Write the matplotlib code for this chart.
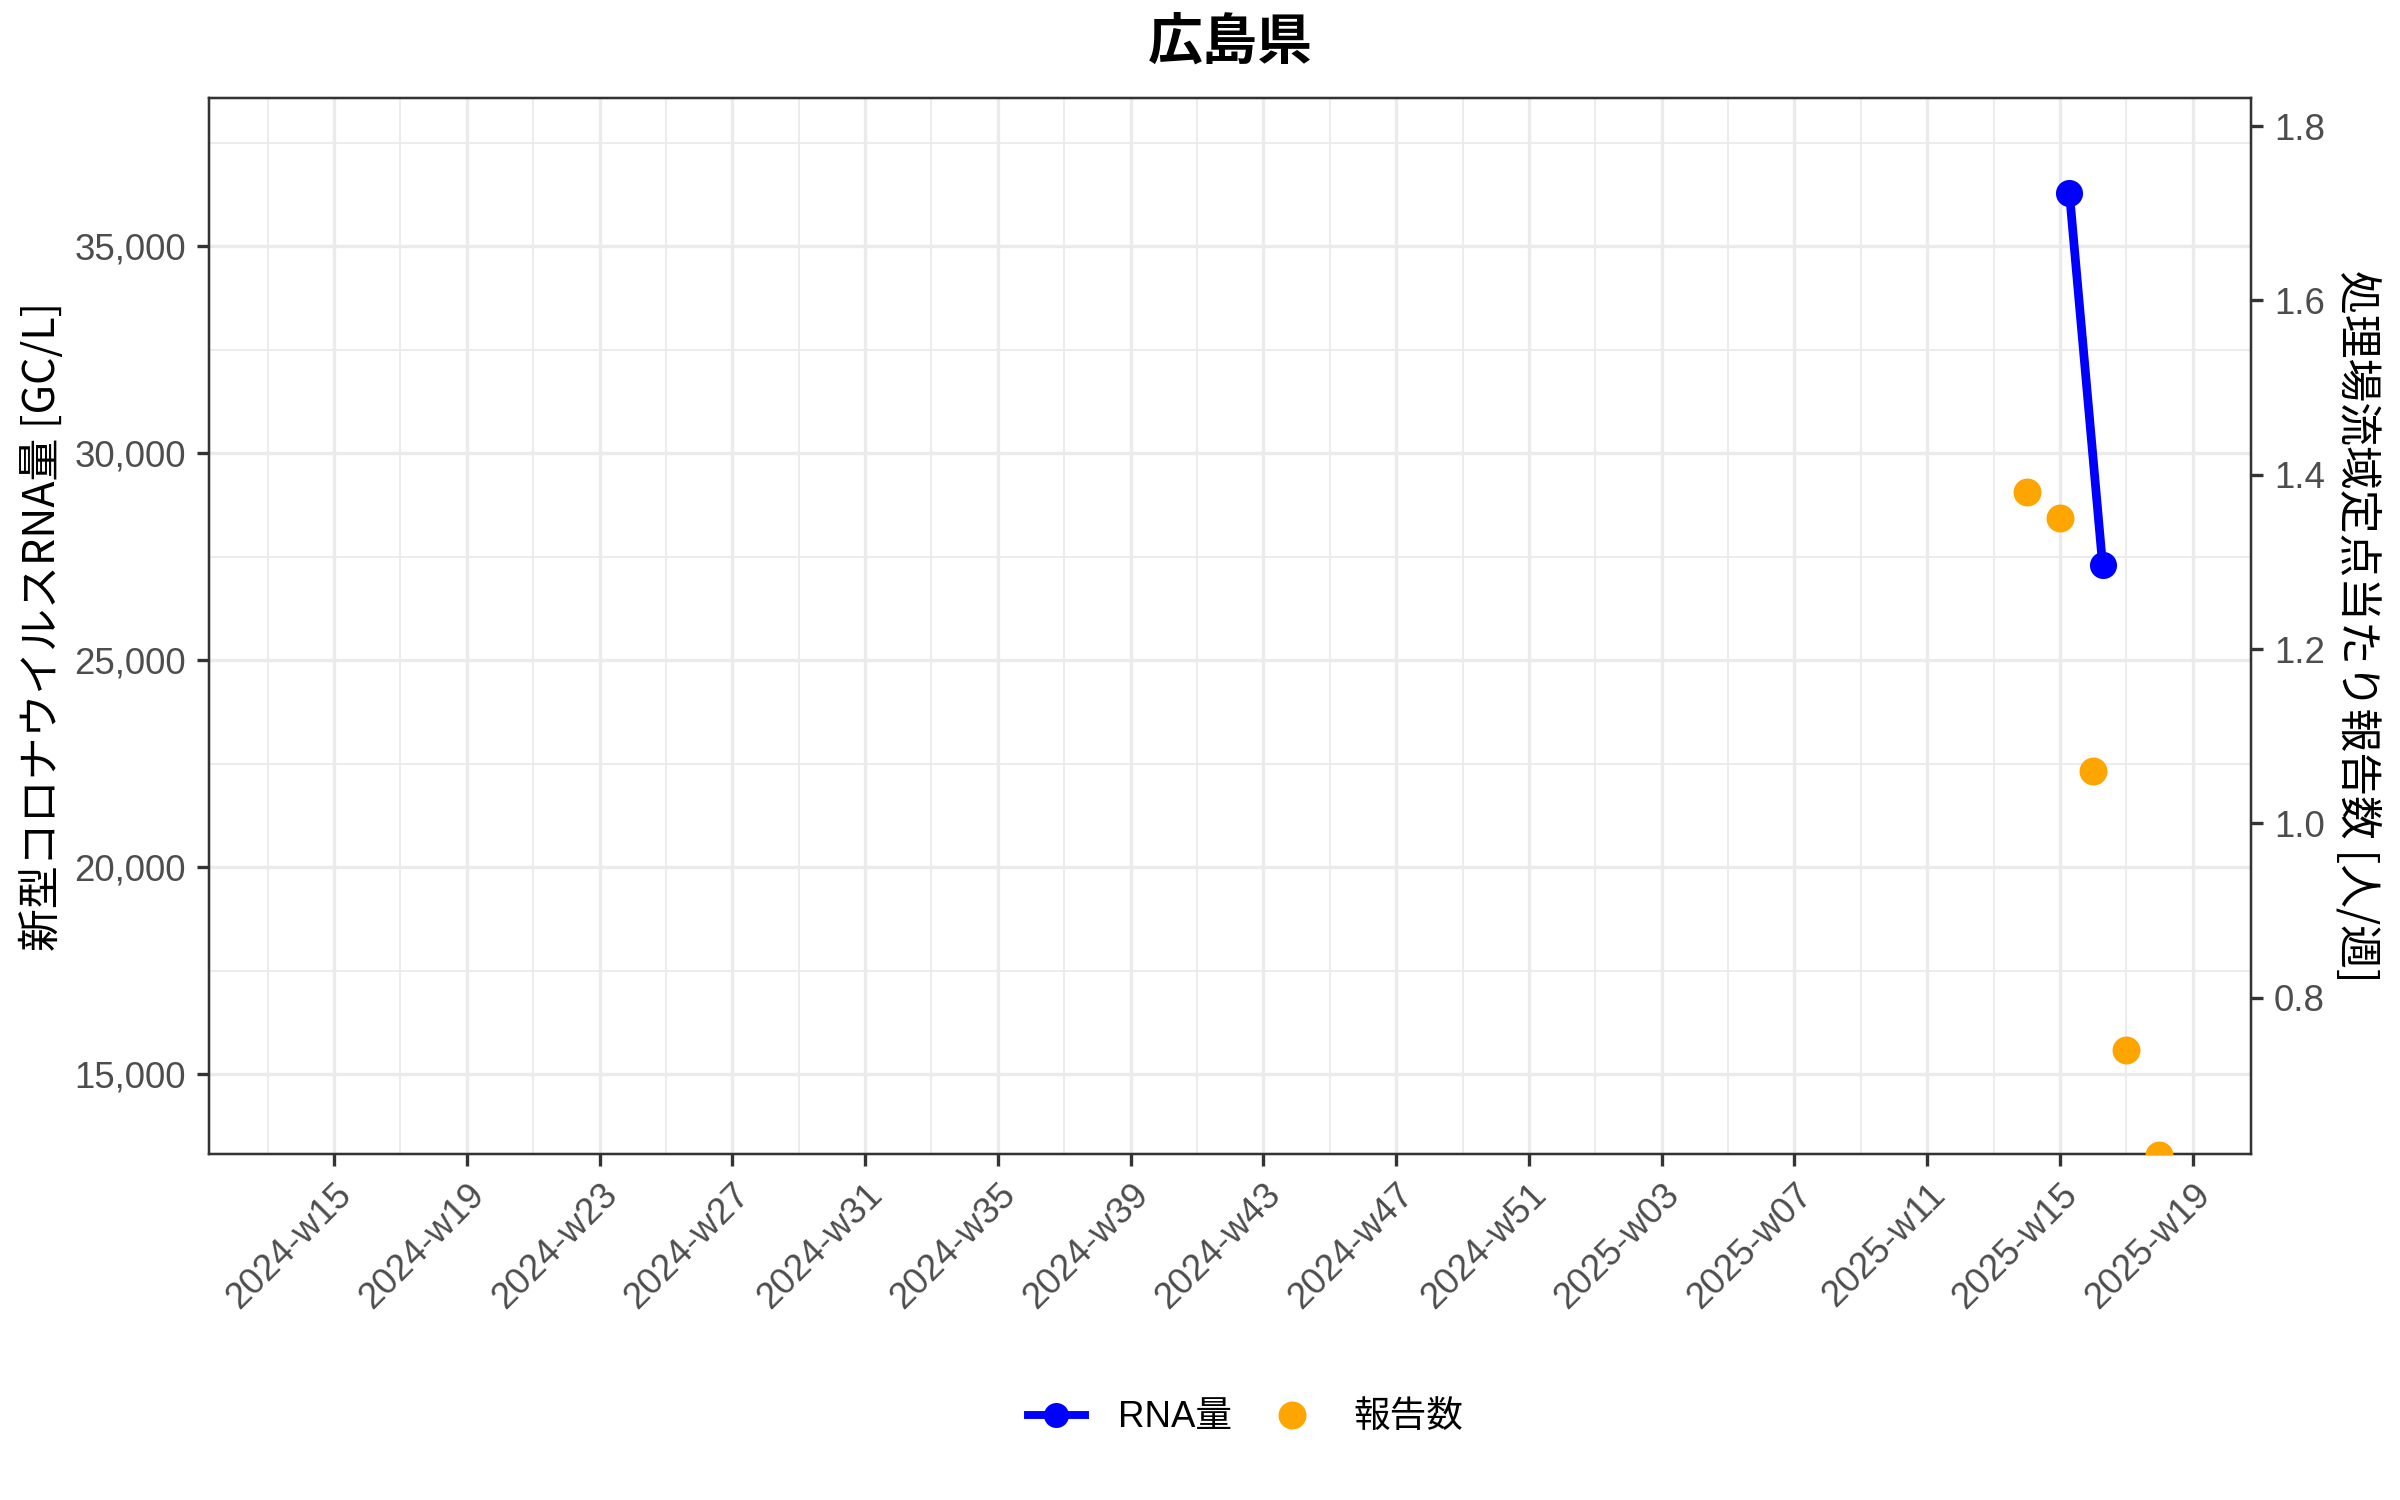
import datetime as dt
import matplotlib
matplotlib.use("Agg")
import matplotlib.pyplot as plt
from matplotlib.lines import Line2D
from matplotlib.ticker import FixedLocator, FuncFormatter
import matplotlib.dates as mdates
import pandas as pd

plt.rcParams["font.family"] = ["Liberation Sans", "Noto Sans CJK JP", "DejaVu Sans"]

title = "広島県"
rna_label = "RNA量"
report_label = "報告数"
left_title = "新型コロナウイルスRNA量 [GC/L]"
right_title = "処理場流域定点当たり報告数 [人/週]"

# weekly values (RNA sampled mid-week, reports on week start)
rna_dates = pd.to_datetime(["2025-04-09", "2025-04-16"])
rna_values = [36300, 27300]
report_dates = pd.to_datetime(["2025-03-31", "2025-04-07", "2025-04-14", "2025-04-21", "2025-04-28"])
report_values = [1.38, 1.35, 1.06, 0.74, 0.62]

week_labels = ["2024-w15", "2024-w19", "2024-w23", "2024-w27", "2024-w31",
               "2024-w35", "2024-w39", "2024-w43", "2024-w47", "2024-w51",
               "2025-w03", "2025-w07", "2025-w11", "2025-w15", "2025-w19"]
left_ticks = [15000, 20000, 25000, 30000, 35000]
right_ticks = [0.8, 1.0, 1.2, 1.4, 1.6, 1.8]

x_range = (pd.Timestamp("2024-03-12 15:00"), pd.Timestamp("2025-05-17 07:00"))
left_range = (13071, 38586)
right_range = (0.6207, 1.8324)


def week_start(label):
    year, week = label.split("-w")
    return dt.datetime.fromisocalendar(int(year), int(week), 1)


week_pos = [week_start(w) for w in week_labels]
half = dt.timedelta(days=14)
minor_x = [week_pos[0] - half] + [p + half for p in week_pos]
step = left_ticks[1] - left_ticks[0]
minor_y = [left_ticks[0] - step / 2] + [t + step / 2 for t in left_ticks]

grey20 = "#333333"
grey30 = "#4D4D4D"
grid_col = "#EBEBEB"

fig = plt.figure(figsize=(8, 5), dpi=300)
ax = fig.add_axes([0.0871, 0.2307, 0.8508, 0.704])
ax2 = ax.twinx()

ax.plot(rna_dates, rna_values, color="blue", lw=2.1, marker="o", ms=5.5, zorder=3)
ax2.plot(report_dates, report_values, ls="none", color="orange", marker="o", ms=5.7, zorder=3)

ax.set_xlim(mdates.date2num(x_range[0]), mdates.date2num(x_range[1]))
ax.set_ylim(*left_range)
ax2.set_ylim(*right_range)

ax.xaxis.set_major_locator(FixedLocator(mdates.date2num(week_pos)))
ax.xaxis.set_minor_locator(FixedLocator(mdates.date2num(minor_x)))
ax.set_xticklabels(week_labels)
ax.yaxis.set_major_locator(FixedLocator(left_ticks))
ax.yaxis.set_minor_locator(FixedLocator(minor_y))
ax.yaxis.set_major_formatter(FuncFormatter(lambda v, p: f"{v:,.0f}"))
ax2.yaxis.set_major_locator(FixedLocator(right_ticks))
ax2.yaxis.set_major_formatter(FuncFormatter(lambda v, p: f"{v:.1f}"))

ax.set_axisbelow(True)
ax.grid(which="major", color=grid_col, lw=0.8)
ax.grid(which="minor", color=grid_col, lw=0.45)
ax2.grid(False)

for a in (ax, ax2):
    for s in a.spines.values():
        s.set_color(grey20)
        s.set_linewidth(0.55)
    a.tick_params(which="major", length=2.9, width=0.8, color=grey20,
                  labelsize=8.8, labelcolor=grey30, pad=2.6)
    a.tick_params(which="minor", length=0)

for lab in ax.get_xticklabels():
    lab.set_rotation(45)
    lab.set_ha("right")
    lab.set_va("top")
    lab.set_rotation_mode("anchor")

cjk = ["Noto Sans CJK JP", "DejaVu Sans"]
ax.set_ylabel(left_title, fontsize=10.3, family=cjk, color="black", va="center", ha="center")
ax.yaxis.set_label_coords(-0.0815, 0.5)
ax2.set_ylabel(right_title, fontsize=10.5, family=cjk, color="black", rotation=270, va="center", ha="center")
ax2.yaxis.set_label_coords(1.0522, 0.5)

ax.text(0.5, 1 + 55 / 1056, title, transform=ax.transAxes, ha="center", va="center",
        fontsize=13.2, fontweight="bold", family=cjk)

handles = [
    Line2D([], [], color="blue", lw=1.9, marker="o", ms=5),
    Line2D([], [], color="orange", ls="none", marker="o", ms=5.7),
]
fig.legend(handles, [rna_label, report_label], loc="center", bbox_to_anchor=(0.519, 0.0547),
           ncol=2, frameon=False, fontsize=8.8, handlelength=1.56, handletextpad=0.9,
           columnspacing=0.85)

fig.savefig("out.png", dpi=300, facecolor="white")
